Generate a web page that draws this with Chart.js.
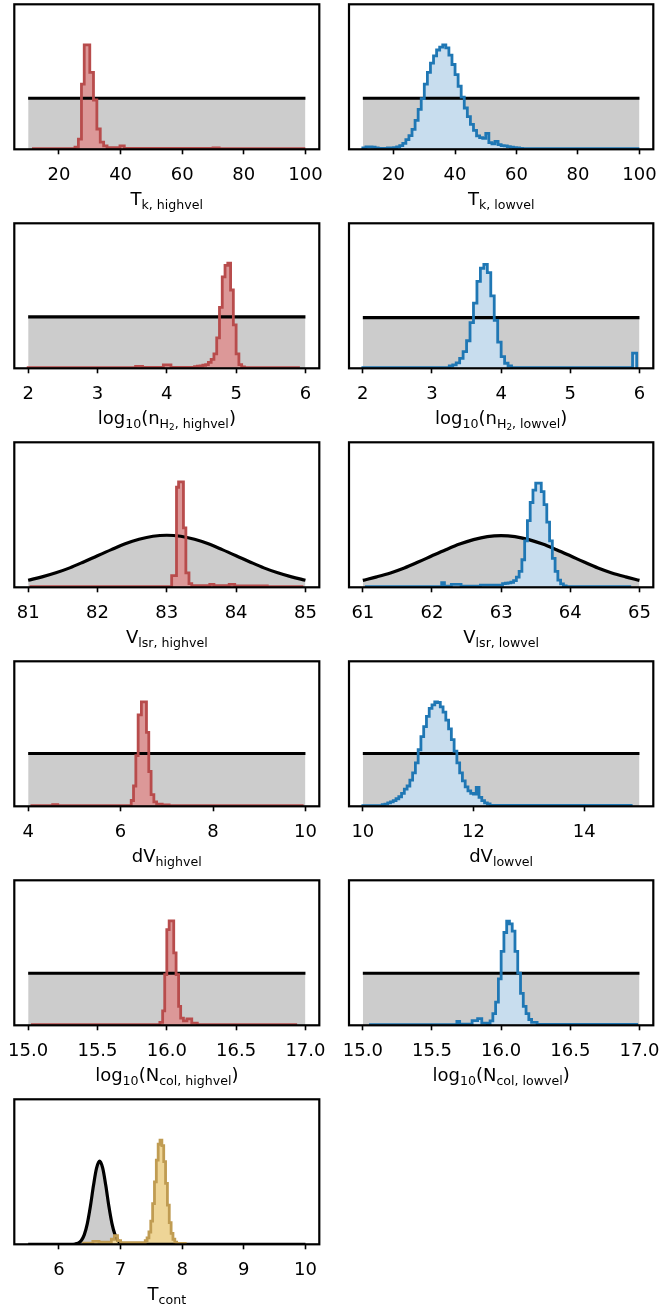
<!DOCTYPE html>
<html>
<head>
<meta charset="utf-8">
<script src="https://cdn.jsdelivr.net/npm/chart.js@4.4.1/dist/chart.umd.min.js"></script>
<style>
  body { margin: 0; background: #fff; }
  #fig { position: relative; width: 660px; height: 1309px; }
  .panel { position: absolute; }
  .xl { position: absolute; width: 300px; text-align: center; font-family: 'DejaVu Sans', sans-serif;
        font-size: 18px; line-height: 18px; color: #000; white-space: nowrap; }
  .xl sub { font-size: 0.7em; vertical-align: baseline; position: relative; top: 0.28em; line-height: 0; }
</style>
</head>
<body>
<div id="fig"></div>
<script>
// y values are in percent of the axes height (y ticks are hidden in the figure)

// T_k
const tkPriorX = [10, 100];
const tkPriorY = [35.2, 35.2];
const tkHighEdges = [11.7, 25.2, 26.3, 27.3, 28.2, 29.1, 30.0, 31.2, 32.3, 33.4, 34.5, 35.6, 39.8, 41.2, 70, 72, 99.5];
const tkHighCounts = [0.5, 1.5, 7, 45, 72, 72, 53, 34, 14, 5, 2.3, 1.2, 2.3, 0.6, 1.0, 0.5];
const tkLowEdges = [10, 11, 12, 13, 14, 15, 16, 17, 18, 19, 20, 21, 22, 23, 24, 25, 26, 27, 28, 29, 30, 31, 32, 33, 34,
  35, 36, 37, 38, 39, 40, 41, 42, 43, 44, 45, 46, 47, 48, 49, 50, 51, 52, 53, 54, 55, 56, 57, 58, 59, 60, 61, 62, 63, 99.5];
const tkLowCounts = [0.9, 1.6, 1.6, 1.4, 0.9, 0.7, 0.7, 0.7, 0.9, 0.9, 1.1, 1.6, 2.5, 4.1, 6.7, 9.4, 13.8, 20, 27.5, 35,
  45, 53, 59.5, 64.5, 68.5, 70.5, 72, 70, 65, 58.5, 51.5, 43.5, 36, 28.5, 22.5, 17.2, 13, 9.2, 8, 7.5, 11, 4.6, 3.7, 5.5,
  3.2, 2.5, 2.3, 1.8, 1.4, 1.2, 0.9, 0.7, 0.5, 0.4];

// log10(n_H2)
const nPriorX = [2, 6];
const nHighPriorY = [35.4, 35.4];
const nLowPriorY = [35.0, 35.0];
const nHighEdges = [2.0, 3.55, 3.65, 3.95, 4.06, 4.40, 4.44, 4.48, 4.52, 4.56, 4.60, 4.64, 4.68, 4.72, 4.76, 4.80, 4.84,
  4.88, 4.92, 4.96, 5.00, 5.04, 5.08, 5.12, 5.9];
const nHighCounts = [0.5, 1.3, 0.6, 2.3, 0.7, 1.2, 1.4, 1.6, 2.1, 2.5, 4.1, 6.2, 10, 21, 42, 63, 71, 72.5, 54, 30, 10,
  2.5, 1, 0.4];
const nLowEdges = [2.0, 3.25, 3.30, 3.35, 3.40, 3.45, 3.50, 3.55, 3.60, 3.65, 3.70, 3.75, 3.80, 3.85, 3.90, 3.95, 4.00,
  4.05, 4.10, 4.15, 5.9, 5.96];
const nLowCounts = [0.5, 1.6, 2.3, 3.7, 6.9, 11.5, 19, 31.5, 45, 60, 69, 71.7, 66, 50, 33, 18, 8, 3.5, 1.6, 0.5, 10.5];

// V_lsr (gaussian priors)
const vHighPriorX = [81, 81.2, 81.4, 81.6, 81.8, 82, 82.2, 82.4, 82.6, 82.8, 83, 83.2, 83.4, 83.6, 83.8, 84, 84.2, 84.4,
  84.6, 84.8, 85];
const vHighPriorY = [4.9, 7.2, 10.0, 13.4, 17.5, 21.8, 26.0, 30.0, 33.1, 35.2, 35.9, 35.2, 33.1, 30.0, 26.0, 21.8, 17.5,
  13.4, 10.0, 7.2, 4.9];
const vHighEdges = [81.04, 83.07, 83.14, 83.17, 83.24, 83.275, 83.32, 83.36, 83.62, 83.68, 83.9, 83.98, 84.45, 84.95];
const vHighCounts = [0.5, 8, 69, 72.7, 41, 10, 2.5, 1.2, 2, 1.2, 2, 1, 0.5];
const vLowPriorX = [61, 61.2, 61.4, 61.6, 61.8, 62, 62.2, 62.4, 62.6, 62.8, 63, 63.2, 63.4, 63.6, 63.8, 64, 64.2, 64.4,
  64.6, 64.8, 65];
const vLowPriorY = [4.8, 7.2, 9.9, 13.3, 17.4, 21.7, 25.9, 29.8, 32.9, 35.0, 35.7, 35.0, 32.9, 29.8, 25.9, 21.7, 17.4,
  13.3, 9.9, 7.2, 4.8];
const vLowEdges = [61.05, 62.14, 62.18, 62.28, 62.42, 62.7, 63.02, 63.06, 63.10, 63.14, 63.18, 63.22, 63.26, 63.30,
  63.34, 63.38, 63.42, 63.46, 63.50, 63.54, 63.58, 63.62, 63.66, 63.70, 63.74, 63.78, 63.82, 63.86, 63.90, 63.94, 64.86];
const vLowCounts = [0.5, 3.2, 0.8, 2, 0.8, 1.5, 2.5, 2.8, 3.0, 3.5, 4.6, 7, 11, 19, 32, 46, 58.5, 67, 71.9, 71.9, 66, 57,
  45, 32, 20, 11, 5, 2.3, 1, 0.5];

// dV
const dvHighPriorX = [4, 10];
const dvHighPriorY = [36.4, 36.4];
const dvHighEdges = [4.08, 4.53, 4.64, 6.23, 6.28, 6.33, 6.38, 6.45, 6.56, 6.61, 6.66, 6.72, 6.78, 6.9, 7.05, 9.93];
const dvHighCounts = [0.5, 1.2, 0.5, 4, 14, 35, 63, 72, 51, 24, 8, 3, 1.5, 1, 0.5];
const dvLowPriorX = [10, 15];
const dvLowPriorY = [36.4, 36.4];
const dvLowEdges = [10.0, 10.35, 10.40, 10.45, 10.50, 10.55, 10.60, 10.65, 10.70, 10.75, 10.80, 10.85, 10.90, 10.95,
  11.00, 11.05, 11.10, 11.15, 11.20, 11.25, 11.30, 11.35, 11.40, 11.45, 11.50, 11.55, 11.60, 11.65, 11.70, 11.75, 11.80,
  11.85, 11.90, 11.95, 12.00, 12.05, 12.10, 12.15, 12.20, 12.25, 12.30, 14.85];
const dvLowCounts = [0.5, 1.2, 1.5, 2.3, 3, 3.9, 5.2, 6.6, 8.9, 11.8, 14, 18, 23, 30, 39, 48, 55, 62, 67.5, 70, 72, 71.6,
  68.6, 65, 59.5, 53.4, 46, 38, 30, 23, 17.5, 13.4, 10.7, 8.9, 8.4, 13, 6.1, 3.9, 2.3, 1.6, 0.6];

// log10(N_col)
const ncPriorX = [15, 17];
const ncPriorY = [35.9, 35.9];
const ncHighEdges = [15.03, 15.95, 15.97, 15.985, 16.0, 16.017, 16.05, 16.067, 16.085, 16.10, 16.12, 16.145, 16.18,
  16.22, 16.93];
const ncHighCounts = [0.5, 2, 10, 35, 66, 72, 50, 35, 13, 5, 3, 4.5, 1.5, 0.5];
const ncLowEdges = [15.055, 15.68, 15.70, 15.79, 15.83, 15.86, 15.90, 15.92, 15.94, 15.96, 15.98, 16.00, 16.02, 16.04,
  16.06, 16.08, 16.10, 16.12, 16.14, 16.16, 16.18, 16.20, 16.22, 16.26, 16.98];
const ncLowCounts = [0.5, 2.7, 0.8, 3.2, 4.6, 1.5, 1, 3, 8, 16, 32, 51, 64, 71.9, 70, 65, 51, 36, 22, 13, 8, 4, 2, 0.6];

// T_cont
const tcPriorX = [5.5, 6.2, 6.26, 6.31, 6.36, 6.41, 6.46, 6.51, 6.56, 6.61, 6.66, 6.71, 6.76, 6.81, 6.86, 6.91, 6.96,
  7.01, 7.06, 7.15, 10];
const tcPriorY = [0, 0, 0.2, 0.8, 2.5, 6.5, 14.3, 26.2, 40.5, 52.5, 57.3, 52.5, 40.5, 26.2, 14.3, 6.5, 2.5, 0.8, 0.2, 0, 0];
const tcEdges = [6.40, 6.55, 6.65, 6.85, 6.90, 6.95, 7.0, 7.40, 7.43, 7.46, 7.49, 7.52, 7.55, 7.58, 7.61, 7.64, 7.67,
  7.70, 7.73, 7.76, 7.79, 7.82, 7.85, 7.88, 7.91, 8.05];
const tcCounts = [0.8, 2, 1.5, 3.5, 6, 2.5, 1.2, 2.5, 4.5, 8.5, 16, 28, 43, 58, 69, 71.8, 68, 57, 42, 27, 15, 7.5, 3.5,
  1.5, 0.6];

const colors = {
  red:  { line: '#b84c4c', fill: '#dc9898' },
  blue: { line: '#1f77b4', fill: '#c8ddee' },
  gold: { line: '#c09c52', fill: '#eed597' }
};

const panels = [
  { row: 0, col: 0, xlim: [5.5, 104.5], ticks: [20, 40, 60, 80, 100], dec: 0, px: tkPriorX, py: tkPriorY, smooth: false,
    edges: tkHighEdges, counts: tkHighCounts, color: 'red', label: 'T<sub>k, highvel</sub>' },
  { row: 0, col: 1, xlim: [5.5, 104.5], ticks: [20, 40, 60, 80, 100], dec: 0, px: tkPriorX, py: tkPriorY, smooth: false,
    edges: tkLowEdges, counts: tkLowCounts, color: 'blue', label: 'T<sub>k, lowvel</sub>' },
  { row: 1, col: 0, xlim: [1.8, 6.2], ticks: [2, 3, 4, 5, 6], dec: 0, px: nPriorX, py: nHighPriorY, smooth: false,
    edges: nHighEdges, counts: nHighCounts, color: 'red', label: 'log<sub>10</sub>(n<sub>H<sub>2</sub>, highvel</sub>)' },
  { row: 1, col: 1, xlim: [1.8, 6.2], ticks: [2, 3, 4, 5, 6], dec: 0, px: nPriorX, py: nLowPriorY, smooth: false,
    edges: nLowEdges, counts: nLowCounts, color: 'blue', label: 'log<sub>10</sub>(n<sub>H<sub>2</sub>, lowvel</sub>)' },
  { row: 2, col: 0, xlim: [80.8, 85.2], ticks: [81, 82, 83, 84, 85], dec: 0, px: vHighPriorX, py: vHighPriorY, smooth: true,
    edges: vHighEdges, counts: vHighCounts, color: 'red', label: 'V<sub>lsr, highvel</sub>' },
  { row: 2, col: 1, xlim: [60.8, 65.2], ticks: [61, 62, 63, 64, 65], dec: 0, px: vLowPriorX, py: vLowPriorY, smooth: true,
    edges: vLowEdges, counts: vLowCounts, color: 'blue', label: 'V<sub>lsr, lowvel</sub>' },
  { row: 3, col: 0, xlim: [3.7, 10.3], ticks: [4, 6, 8, 10], dec: 0, px: dvHighPriorX, py: dvHighPriorY, smooth: false,
    edges: dvHighEdges, counts: dvHighCounts, color: 'red', label: 'dV<sub>highvel</sub>' },
  { row: 3, col: 1, xlim: [9.75, 15.25], ticks: [10, 12, 14], dec: 0, px: dvLowPriorX, py: dvLowPriorY, smooth: false,
    edges: dvLowEdges, counts: dvLowCounts, color: 'blue', label: 'dV<sub>lowvel</sub>' },
  { row: 4, col: 0, xlim: [14.9, 17.1], ticks: [15, 15.5, 16, 16.5, 17], dec: 1, px: ncPriorX, py: ncPriorY, smooth: false,
    edges: ncHighEdges, counts: ncHighCounts, color: 'red', label: 'log<sub>10</sub>(N<sub>col, highvel</sub>)' },
  { row: 4, col: 1, xlim: [14.9, 17.1], ticks: [15, 15.5, 16, 16.5, 17], dec: 1, px: ncPriorX, py: ncPriorY, smooth: false,
    edges: ncLowEdges, counts: ncLowCounts, color: 'blue', label: 'log<sub>10</sub>(N<sub>col, lowvel</sub>)' },
  { row: 5, col: 0, xlim: [5.275, 10.225], ticks: [6, 7, 8, 9, 10], dec: 0, px: tcPriorX, py: tcPriorY, smooth: true,
    edges: tcEdges, counts: tcCounts, color: 'gold', label: 'T<sub>cont</sub>' }
];

// panel geometry (px)
const CW = 330, CH = 219, BOX_TOP = 4.3, BOX_H = 145;
const padLR = [[14.3, 10.7], [19, 6.7]];

// step outline of a histogram: horizontal over each bin, down to 0 at both ends
function histPoints(edges, counts) {
  const pts = [{ x: edges[0], y: 0 }];
  counts.forEach((c, i) => pts.push({ x: edges[i], y: c }));
  pts.push({ x: edges[edges.length - 1], y: counts[counts.length - 1] });
  pts.push({ x: edges[edges.length - 1], y: 0 });
  return pts;
}

function curvePoints(xs, ys) {
  return xs.map((x, i) => ({ x: x, y: ys[i] }));
}

// black frame around the axes
const boxPlugin = {
  id: 'box',
  afterDatasetsDraw(chart) {
    const { ctx, chartArea: a } = chart;
    ctx.save();
    ctx.strokeStyle = '#000';
    ctx.lineWidth = 2.2;
    ctx.strokeRect(a.left, a.top, a.right - a.left, a.bottom - a.top);
    ctx.restore();
  }
};

const fig = document.getElementById('fig');

panels.forEach(p => {
  const canvas = document.createElement('canvas');
  canvas.width = CW;
  canvas.height = CH;
  canvas.className = 'panel';
  canvas.style.left = (p.col * CW) + 'px';
  canvas.style.top = (p.row * CH) + 'px';
  fig.appendChild(canvas);

  const col = colors[p.color];
  const prior = curvePoints(p.px, p.py);
  const hist = histPoints(p.edges, p.counts);
  const interp = p.smooth ? 'monotone' : 'default';

  new Chart(canvas.getContext('2d'), {
    type: 'line',
    data: {
      datasets: [
        { data: hist, stepped: true, borderColor: col.line, borderWidth: 2.8, fill: false, order: 1 },
        { data: prior, borderColor: '#000', borderWidth: 3.2, fill: false, cubicInterpolationMode: interp, order: 2 },
        { data: hist, stepped: true, borderColor: 'rgba(0,0,0,0)', borderWidth: 0, fill: 'origin',
          backgroundColor: col.fill, order: 3 },
        { data: prior, borderColor: 'rgba(0,0,0,0)', borderWidth: 0, fill: 'origin', backgroundColor: '#cccccc',
          cubicInterpolationMode: interp, order: 4 }
      ]
    },
    options: {
      responsive: false,
      animation: false,
      devicePixelRatio: 1,
      events: [],
      elements: { point: { radius: 0 } },
      layout: { padding: { left: padLR[p.col][0], right: padLR[p.col][1], top: BOX_TOP, bottom: 0 } },
      plugins: { legend: { display: false }, tooltip: { enabled: false } },
      scales: {
        x: {
          type: 'linear',
          min: p.xlim[0],
          max: p.xlim[1],
          afterBuildTicks: s => { s.ticks = p.ticks.map(v => ({ value: v })); },
          afterFit: s => { s.height = CH - BOX_TOP - BOX_H; s.paddingLeft = 0; s.paddingRight = 0; },
          grid: { drawOnChartArea: false, drawTicks: true, tickLength: 5, tickWidth: 1.6, tickColor: '#000' },
          border: { display: false },
          ticks: {
            autoSkip: false,
            maxRotation: 0,
            padding: 10,
            color: '#000',
            font: { family: 'DejaVu Sans', size: 18 },
            callback: v => Number(v).toFixed(p.dec)
          }
        },
        y: { type: 'linear', min: 0, max: 100, display: false }
      }
    },
    plugins: [boxPlugin]
  });

  const lab = document.createElement('div');
  lab.className = 'xl';
  const cx = p.col * CW + (padLR[p.col][0] + CW - padLR[p.col][1]) / 2;
  lab.style.left = (cx - 150) + 'px';
  lab.style.top = (p.row * CH + 190) + 'px';
  lab.innerHTML = p.label;
  fig.appendChild(lab);
});
</script>
</body>
</html>
